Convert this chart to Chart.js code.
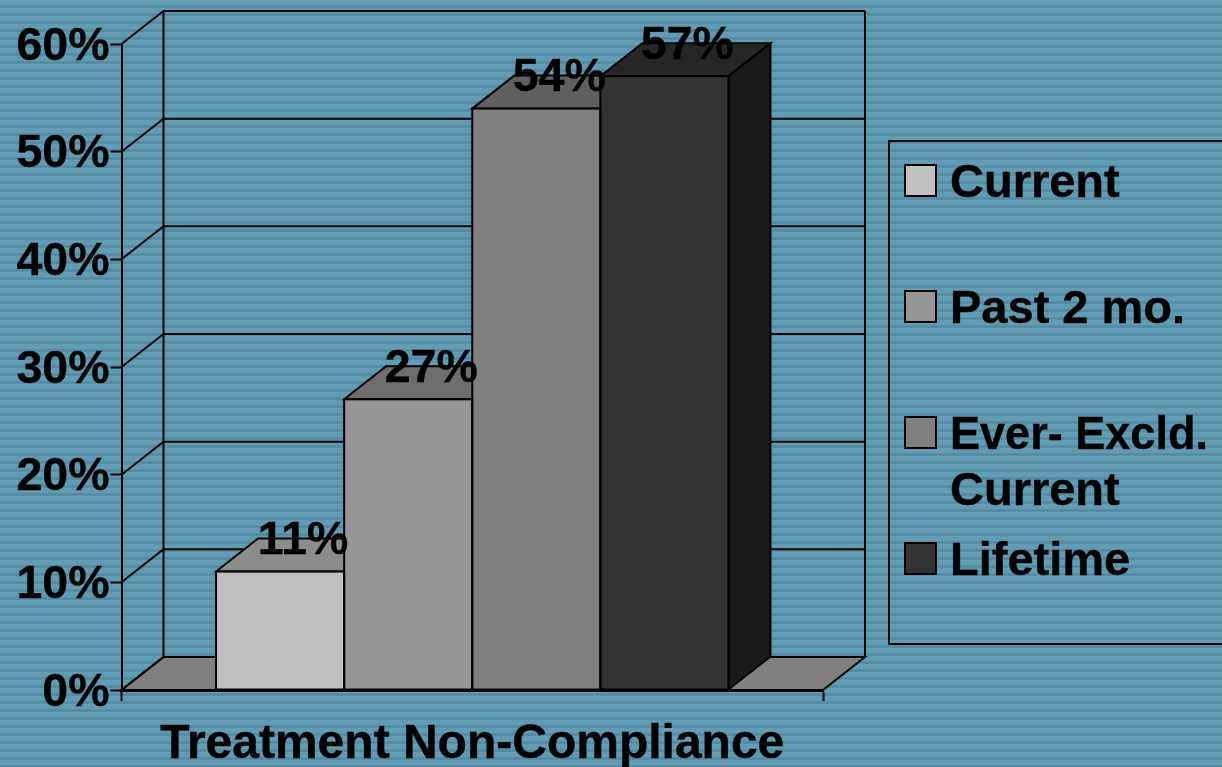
<!DOCTYPE html>
<html>
<head>
<meta charset="utf-8">
<title>Treatment Non-Compliance</title>
<script src="https://cdn.jsdelivr.net/npm/chart.js@4"></script>
<style>
  html, body { margin: 0; padding: 0; width: 1222px; height: 767px; overflow: hidden; }
  body { background: repeating-linear-gradient(to bottom, #609cb3 0px, #609cb3 5px, #5a94ab 5px, #528aa0 6px, #528aa0 7px, #5a94ab 8px); }
  canvas { display: block; }
</style>
</head>
<body>
<canvas id="chart" width="1222" height="767"></canvas>
<script>
const categories = ['Treatment Non-Compliance'];
const seriesNames = ['Current', 'Past 2 mo.', 'Ever- Excld. Current', 'Lifetime'];
const currentValues = [11];
const pastValues = [27];
const everValues = [54];
const lifetimeValues = [57];
const axisMax = 60;
const axisStep = 10;

const frontColors = ['#c0c0c0', '#969696', '#808080', '#333333'];
const topColors = ['#8c8c8c', '#6e6e6e', '#606060', '#262626'];
const sideColors = ['#808080', '#666666', '#555555', '#1a1a1a'];

const FONT = 'bold 46.5px "Liberation Sans", Arial, sans-serif';
const TEXT_STROKE = 0.4; // the original text is a little heavier than the plain bold
const LEGEND_TEXT_WIDTH = 258; // "Ever- Excld." is set tighter in the original
const DX = 42; // depth of the fake 3D box
const DY = -33;

function poly(c, pts, fill) {
  c.beginPath();
  pts.forEach((p, i) => (i ? c.lineTo(p[0], p[1]) : c.moveTo(p[0], p[1])));
  c.closePath();
  if (fill) {
    c.fillStyle = fill;
    c.fill();
  }
  c.stroke();
}

function heavyText(c, t, x, y, maxWidth) {
  c.fillText(t, x, y, maxWidth);
  c.lineWidth = TEXT_STROKE;
  c.strokeText(t, x, y, maxWidth);
  c.lineWidth = 2;
}

// walls, floor, gridlines and the top and side faces of the bars
const box3d = {
  id: 'box3d',
  beforeDatasetsDraw(chart) {
    const c = chart.ctx;
    const { left, right } = chart.chartArea;
    const y = chart.scales.y;
    const zero = y.getPixelForValue(0);
    c.save();
    c.strokeStyle = '#000';
    c.lineWidth = 2;
    poly(c, [[left, zero], [left + DX, zero + DY], [right + DX, zero + DY], [right, zero]], '#808080');
    y.ticks.forEach((t) => {
      const py = y.getPixelForValue(t.value);
      c.beginPath();
      c.moveTo(left, py);
      c.lineTo(left + DX, py + DY);
      c.lineTo(right + DX, py + DY);
      c.stroke();
    });
    const top = y.getPixelForValue(axisMax) + DY;
    c.beginPath();
    c.moveTo(left + DX, top);
    c.lineTo(left + DX, zero + DY);
    c.moveTo(right + DX, top);
    c.lineTo(right + DX, zero + DY);
    c.stroke();

    chart.data.datasets.forEach((ds, i) => {
      const b = chart.getDatasetMeta(i).data[0];
      const x0 = b.x - b.width / 2;
      const x1 = b.x + b.width / 2;
      poly(c, [[x0, b.y], [x0 + DX, b.y + DY], [x1 + DX, b.y + DY], [x1, b.y]], topColors[i]);
      poly(c, [[x1, b.y], [x1 + DX, b.y + DY], [x1 + DX, b.base + DY], [x1, b.base]], sideColors[i]);
    });
    c.restore();
  },
  afterDatasetsDraw(chart) {
    const c = chart.ctx;
    c.save();
    c.strokeStyle = '#000';
    c.lineWidth = 2;
    const bars = chart.data.datasets.map((ds, i) => chart.getDatasetMeta(i).data[0]);
    bars.forEach((b) => {
      c.strokeRect(b.x - b.width / 2, b.y, b.width, b.base - b.y);
    });
    // value labels sit on the top face
    c.font = FONT;
    c.fillStyle = '#000';
    c.textAlign = 'center';
    c.textBaseline = 'middle';
    bars.forEach((b, i) => {
      heavyText(c, chart.data.datasets[i].data[0] + '%', b.x + 23, b.y - 30);
    });
    c.restore();
  },
  afterDraw(chart) {
    const c = chart.ctx;
    c.save();
    c.strokeStyle = '#000';
    c.lineWidth = 2;
    c.beginPath();
    c.moveTo(1222, 141);
    c.lineTo(889, 141);
    c.lineTo(889, 644);
    c.lineTo(1222, 644);
    c.stroke();
    c.font = FONT.replace('46.5px', '47px');
    c.fillStyle = '#000';
    c.textAlign = 'left';
    c.textBaseline = 'alphabetic';
    const swatchTops = [165, 291, 417, 543];
    const lines = [[seriesNames[0]], [seriesNames[1]], ['Ever- Excld.', 'Current'], [seriesNames[3]]];
    lines.forEach((l, i) => {
      c.fillStyle = frontColors[i];
      c.fillRect(905, swatchTops[i], 31, 31);
      c.strokeRect(905, swatchTops[i], 31, 31);
      c.fillStyle = '#000';
      l.forEach((t, j) => heavyText(c, t, 950, swatchTops[i] + 32 + j * 56, LEGEND_TEXT_WIDTH));
    });
    c.restore();
  },
};

const tickFont = { family: '"Liberation Sans", Arial, sans-serif', size: 46.5, weight: 'bold' };

new Chart(document.getElementById('chart').getContext('2d'), {
  type: 'bar',
  plugins: [box3d],
  data: {
    labels: categories,
    datasets: [
      { label: seriesNames[0], data: currentValues, backgroundColor: frontColors[0] },
      { label: seriesNames[1], data: pastValues, backgroundColor: frontColors[1] },
      { label: seriesNames[2], data: everValues, backgroundColor: frontColors[2] },
      { label: seriesNames[3], data: lifetimeValues, backgroundColor: frontColors[3] },
    ],
  },
  options: {
    responsive: false,
    animation: false,
    layout: { padding: { top: 44, right: 399, left: 0, bottom: 0 } },
    barPercentage: 1,
    categoryPercentage: 512 / 701,
    plugins: { legend: { display: false }, tooltip: { enabled: false } },
    scales: {
      x: {
        afterFit(scale) { scale.height = 77; },
        border: { color: '#000', width: 3 },
        grid: { drawOnChartArea: false, tickLength: 11, tickColor: '#000', tickWidth: 2 },
        ticks: {
          color: '#000',
          font: { ...tickFont, size: 48 },
          padding: 15,
          maxRotation: 0,
          textStrokeColor: '#000',
          textStrokeWidth: TEXT_STROKE,
        },
      },
      y: {
        min: 0,
        max: axisMax,
        afterFit(scale) { scale.width = 121.5; },
        border: { color: '#000', width: 2 },
        grid: { drawOnChartArea: false, tickLength: 11, tickColor: '#000', tickWidth: 2 },
        ticks: {
          stepSize: axisStep,
          color: '#000',
          font: tickFont,
          padding: 1,
          labelOffset: 3,
          textStrokeColor: '#000',
          textStrokeWidth: TEXT_STROKE,
          callback: (v) => v + '%',
        },
      },
    },
  },
});
</script>
</body>
</html>
